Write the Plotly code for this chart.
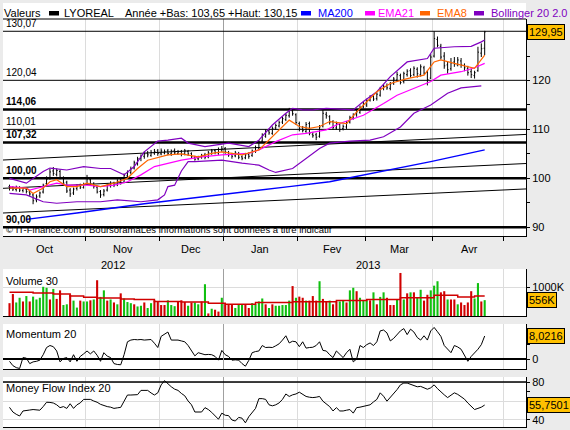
import plotly.graph_objects as go

# ---------------- data ----------------
days = list(range(142))  # trading days from 1 Oct 2012

open_ = [98.3, 98.1, 97.7, 98.1, 97.5, 97.8, 97.2, 96.6, 95.6, 96.4,
         97.2, 98.9, 100.0, 101.5, 100.8, 101.4, 100.0, 99.2, 97.6, 97.0,
         97.9, 98.5, 98.1, 98.9, 99.7, 98.8, 98.2, 97.3, 96.7, 97.6,
         98.5, 99.0, 98.7, 99.3, 99.2, 100.5, 101.2, 102.1, 103.0, 104.1,
         104.5, 105.1, 104.7, 105.2, 105.6, 105.0, 105.2, 105.6, 105.0, 105.7,
         105.1, 105.5, 105.0, 105.5, 105.1, 104.3, 104.0, 104.3, 104.8, 104.4,
         105.1, 105.7, 105.2, 105.8, 106.1, 105.3, 104.9, 104.6, 105.0, 104.4,
         104.2, 104.9, 104.7, 105.5, 106.2, 107.6, 108.6, 109.7, 109.2, 110.3,
         110.7, 111.5, 112.0, 112.8, 113.8, 113.0, 111.2, 110.3, 109.6, 111.2,
         109.0, 108.9, 108.6, 110.7, 113.1, 112.6, 111.6, 110.3, 111.0, 110.2,
         110.5, 111.5, 112.3, 113.0, 113.5, 114.6, 115.0, 116.0, 116.8, 116.3,
         117.0, 118.4, 118.9, 118.4, 119.5, 120.1, 121.0, 119.8, 121.2, 122.0,
         121.2, 122.3, 121.2, 122.6, 121.7, 120.5, 125.0, 128.4, 127.0, 125.0,
         123.2, 122.4, 123.8, 123.2, 124.0, 123.1, 122.5, 121.8, 121.0, 122.0,
         125.6, 126.6]
high = [98.7, 98.4, 98.5, 98.4, 98.2, 98.1, 97.6, 96.9, 96.7, 97.3,
        98.9, 100.4, 101.9, 102.3, 102.0, 101.8, 100.4, 99.5, 98.0, 98.1,
        98.8, 98.9, 99.1, 100.7, 100.0, 99.2, 98.5, 97.6, 97.8, 98.9,
        99.4, 99.3, 99.8, 99.9, 101.0, 101.6, 102.4, 103.6, 104.4, 104.9,
        105.5, 105.6, 105.8, 106.0, 106.0, 106.1, 105.9, 106.0, 105.9, 106.1,
        105.8, 105.8, 106.0, 105.8, 105.3, 104.6, 104.6, 105.0, 105.2, 105.6,
        106.0, 106.0, 106.3, 106.6, 106.4, 105.6, 105.2, 105.6, 105.4, 104.7,
        105.2, 105.3, 105.9, 106.7, 107.8, 109.2, 110.0, 110.1, 110.6, 111.2,
        111.8, 112.6, 113.3, 114.4, 114.2, 113.3, 111.6, 110.7, 111.5, 111.6,
        109.5, 109.3, 110.9, 114.1, 113.6, 112.9, 111.9, 111.6, 111.3, 111.0,
        111.7, 112.8, 113.3, 114.0, 114.9, 115.6, 116.3, 117.0, 117.2, 117.6,
        118.7, 119.3, 119.4, 119.7, 120.7, 121.8, 121.4, 121.8, 122.3, 122.5,
        122.9, 122.7, 123.3, 123.0, 122.1, 125.4, 130.07, 129.0, 127.5, 125.8,
        123.8, 124.6, 124.8, 124.8, 124.6, 123.5, 123.0, 122.4, 122.0, 126.9,
        127.6, 130.15]
low = [97.5, 97.4, 97.3, 97.2, 97.1, 96.9, 96.4, 94.7, 95.1, 96.0,
       96.9, 98.6, 99.7, 100.5, 100.4, 99.8, 98.6, 97.0, 96.2, 96.6,
       97.5, 97.8, 97.9, 98.6, 98.5, 97.9, 96.9, 96.0, 96.3, 97.3,
       98.1, 98.2, 98.4, 98.7, 99.0, 100.1, 100.8, 101.8, 102.6, 103.5,
       104.0, 104.3, 104.4, 104.8, 104.6, 104.7, 104.9, 104.7, 104.6, 104.9,
       104.8, 104.5, 104.7, 104.6, 104.0, 103.6, 103.7, 104.0, 103.9, 104.1,
       104.8, 104.9, 104.8, 105.4, 105.0, 104.4, 104.0, 104.3, 103.9, 103.7,
       103.9, 104.0, 104.4, 105.2, 105.9, 107.2, 108.3, 108.9, 108.9, 109.9,
       110.4, 111.1, 111.7, 112.4, 112.8, 110.9, 109.6, 109.4, 109.3, 108.8,
       108.3, 107.8, 108.3, 110.4, 112.2, 111.0, 109.9, 109.9, 109.5, 109.8,
       110.1, 111.2, 112.0, 112.6, 113.2, 114.3, 114.6, 115.7, 115.8, 115.9,
       116.7, 118.0, 118.1, 118.0, 119.1, 119.8, 119.2, 119.4, 120.8, 120.6,
       120.9, 120.6, 120.8, 121.2, 119.0, 120.3, 124.7, 126.8, 124.3, 122.4,
       121.4, 122.0, 122.8, 122.9, 122.6, 121.9, 121.0, 120.5, 120.4, 121.8,
       124.8, 125.2]
close = [98.0, 97.8, 98.2, 97.6, 97.9, 97.3, 96.8, 95.4, 96.2, 97.0,
         98.6, 99.8, 101.3, 101.0, 101.6, 100.2, 99.0, 97.4, 96.8, 97.8,
         98.4, 98.2, 98.7, 99.9, 98.9, 98.3, 97.2, 96.6, 97.4, 98.6,
         98.9, 98.6, 99.4, 99.1, 100.6, 101.3, 102.0, 103.2, 104.0, 104.6,
         105.0, 104.8, 105.3, 105.5, 105.1, 105.6, 105.5, 105.1, 105.6, 105.2,
         105.4, 104.9, 105.6, 105.0, 104.4, 103.9, 104.2, 104.7, 104.3, 105.2,
         105.6, 105.3, 105.9, 106.0, 105.4, 104.8, 104.5, 105.2, 104.3, 104.1,
         104.8, 104.5, 105.6, 106.3, 107.4, 108.8, 109.6, 109.3, 110.2, 110.8,
         111.4, 112.2, 112.9, 113.9, 113.2, 111.4, 110.1, 109.8, 111.0, 109.2,
         108.7, 108.4, 110.5, 113.3, 112.8, 111.5, 110.4, 111.2, 110.0, 110.6,
         111.3, 112.4, 112.9, 113.6, 114.4, 115.2, 115.9, 116.6, 116.2, 117.2,
         118.3, 118.8, 118.5, 119.3, 120.3, 121.2, 119.6, 121.4, 121.9, 121.0,
         122.5, 121.4, 122.8, 121.5, 120.2, 124.8, 128.6, 127.2, 124.8, 123.0,
         122.2, 123.6, 123.4, 124.2, 123.2, 122.6, 121.6, 121.2, 121.6, 125.8,
         126.5, 129.95]

ema8_day = [0, 5, 7, 10, 12, 14, 17, 20, 23, 27, 31, 35, 38, 41, 47, 51, 56, 60, 63, 69,
            74, 76, 80, 83, 86, 89, 92, 95, 100, 103, 109, 113, 118, 123, 126, 128, 132, 136, 138, 141]
ema8 = [98.0, 98.0, 96.9, 98.0, 99.3, 99.7, 98.3, 98.3, 99.0, 98.3, 99.0, 100.0, 102.0, 103.7, 104.8,
        105.0, 104.4, 105.1, 105.4, 104.8, 105.8, 107.2, 109.9, 111.9, 110.6, 110.2, 110.6, 111.6,
        111.2, 113.6, 117.7, 119.4, 120.4, 121.1, 123.8, 124.2, 123.5, 122.8, 122.5, 125.2]
ema21_day = [0, 5, 6, 10, 14, 17, 23, 27, 31, 35, 39, 43, 47, 51, 57, 63, 71, 74, 79, 84,
             88, 94, 98, 105, 111, 115, 119, 125, 128, 134, 138, 141]
ema21 = [98.3, 98.0, 97.6, 98.3, 99.0, 98.6, 98.6, 98.3, 98.6, 99.3, 100.7, 102.4, 103.1, 103.7,
         104.4, 104.8, 105.1, 105.8, 107.5, 108.9, 109.2, 109.9, 111.2, 112.9, 115.3, 117.0, 118.1,
         119.8, 121.1, 121.8, 122.6, 123.5]
boll_up_day = [0, 5, 10, 12, 17, 22, 27, 30, 34, 37, 40, 44, 47, 51, 53, 58, 65, 71, 74, 78,
               82, 84, 87, 90, 94, 102, 105, 109, 113, 118, 124, 126, 132, 137, 140, 141]
boll_up = [100.0, 99.0, 101.4, 102.1, 101.7, 102.4, 102.0, 102.0, 100.7, 102.4, 105.4, 107.6, 107.8,
           108.2, 107.2, 106.5, 107.2, 106.5, 107.8, 110.9, 113.3, 114.3, 114.0, 114.0, 114.3, 114.0,
           115.7, 117.7, 120.8, 123.8, 124.5, 126.6, 126.9, 127.0, 127.9, 128.3]
boll_lo_day = [0, 5, 10, 14, 20, 27, 32, 39, 44, 46, 47, 49, 51, 53, 55, 63, 69, 74, 77, 79,
               84, 88, 92, 95, 101, 107, 111, 116, 120, 125, 130, 134, 140]
boll_lo = [96.9, 96.6, 95.2, 94.9, 95.2, 95.2, 95.6, 95.2, 95.6, 96.6, 98.3, 98.6, 101.5, 103.4,
           103.4, 103.7, 103.1, 102.7, 101.7, 101.2, 102.0, 104.1, 106.1, 107.2, 107.6, 107.8, 108.5,
           110.5, 113.3, 115.0, 117.4, 118.5, 118.9]
ma200_day = [5, 20, 40, 54, 63, 83, 95, 110, 125, 141]
ma200 = [91.6, 92.9, 94.8, 95.9, 96.6, 98.3, 99.3, 101.35, 103.4, 105.8]

levels = [130.07, 120.04, 114.06, 110.01, 107.32, 100.00, 90.00]
level_labels = ["130,07", "120,04", "114,06", "110,01", "107,32", "100,00", "90,00"]
level_bold = [False, False, True, False, True, True, True]
trend_days = [-2, 154]
trend_lines = [[103.74, 109.0], [97.95, 103.05], [92.9, 97.85]]

volume_k = [450, 770, 475, 640, 510, 700, 510, 680, 580, 640,
            1025, 990, 580, 950, 600, 900, 385, 410, 745, 540,
            295, 540, 510, 510, 550, 580, 1255, 670, 900, 540,
            580, 475, 410, 795, 615, 490, 450, 410, 335, 360,
            475, 280, 450, 550, 490, 385, 385, 550, 385, 345,
            510, 550, 490, 360, 475, 475, 410, 510, 1115, 90,
            255, 220, 155, 640, 410, 410, 410, 280, 410, 410,
            410, 280, 450, 410, 510, 615, 410, 280, 410, 360,
            360, 385, 385, 540, 1050, 640, 680, 640, 540, 540,
            700, 540, 1220, 600, 510, 540, 410, 510, 510, 540,
            475, 900, 990, 870, 640, 550, 550, 550, 830, 410,
            670, 830, 640, 385, 385, 580, 1510, 580, 795, 830,
            830, 640, 920, 540, 745, 900, 1065, 1220, 830, 870,
            580, 580, 580, 410, 475, 385, 475, 870, 615, 1155,
            510, 556]
vol_up = [0, 0, 1, 1, 0, 1, 0, 1, 1, 1,
          1, 1, 0, 1, 0, 0, 1, 1, 0, 1,
          1, 0, 1, 1, 0, 1, 0, 1, 1, 0,
          1, 0, 1, 0, 1, 1, 1, 0, 1, 1,
          0, 1, 1, 0, 0, 0, 0, 1, 1, 1,
          0, 0, 0, 1, 0, 1, 1, 0, 1, 0,
          1, 0, 0, 1, 0, 0, 0, 1, 1, 1,
          0, 0, 1, 1, 1, 1, 0, 1, 0, 1,
          1, 1, 1, 1, 0, 1, 0, 0, 1, 0,
          0, 0, 1, 0, 0, 1, 0, 0, 1, 1,
          0, 1, 1, 0, 1, 1, 1, 0, 1, 0,
          1, 1, 0, 0, 0, 1, 0, 1, 0, 1,
          0, 1, 1, 0, 0, 1, 1, 1, 0, 0,
          1, 0, 0, 1, 0, 0, 0, 0, 1, 1,
          0, 1]
vol_ma_day = [0, 7, 13, 18, 22, 26, 33, 37, 43, 51, 59, 64, 73, 84, 97, 106, 116, 126, 133, 138, 141]
vol_ma_k = [833, 808, 770, 705, 655, 628, 600, 577, 513, 487, 449, 410, 475, 500, 540, 577, 640,
            730, 667, 705, 705]

momentum = [-0.8, -2.3, -3.0, -3.3, 0.5, 0.3, -1.6, -1.0, -0.8, -0.4,
            1.5, 4.0, 4.7, 4.3, 2.8, -1.0, 0.2, 0.5, -1.0, 1.5,
            -0.8, 0.9, 1.8, 2.8, 1.8, 2.8, 1.3, -0.8, 2.2, 1.0,
            0.5, -1.6, -1.9, -2.0, 1.5, 6.0, 6.6, 6.8, 6.7, 6.8,
            6.6, 6.8, 6.8, 5.5, 4.0, 7.9, 8.8, 9.4, 6.6, 6.7,
            6.6, 6.3, 6.0, 4.7, 2.8, 1.1, 2.2, 1.8, 1.5, 1.6,
            1.5, 0.9, -0.4, 3.0, 1.5, 0.9, -0.4, -0.3, -0.4, -1.6,
            -2.5, -0.5, 2.2, 2.6, 2.8, 4.7, 4.0, 4.1, 4.0, 4.6,
            5.3, 6.6, 8.1, 5.6, 6.2, 6.0, 4.3, 6.0, 3.8, 4.0,
            4.1, 4.7, 6.0, 3.0, 2.8, 1.5, 0.5, 2.8, 1.5, 0.5,
            2.2, 3.4, -1.0, 0.0, 4.7, 4.0, 5.0, 5.6, 4.7, 6.0,
            9.8, 10.1, 9.1, 6.3, 7.2, 8.5, 9.8, 10.6, 8.5, 10.4,
            9.4, 7.5, 6.6, 8.1, 6.6, 9.8, 11.0, 9.5, 7.9, 4.7,
            3.5, 2.2, 4.7, 4.2, 3.4, 1.5, -0.8, 0.9, 2.0, 3.4,
            5.0, 8.0216]
mfi = [53.3, 48.4, 46.0, 44.2, 49.5, 50.3, 50.5, 51.0, 50.8, 50.3,
       54.1, 58.7, 58.5, 57.9, 56.0, 53.0, 54.1, 52.2, 57.1, 52.2,
       56.0, 58.0, 61.7, 61.7, 61.7, 60.0, 58.7, 56.5, 54.9, 54.1,
       53.5, 52.2, 52.8, 53.3, 59.8, 66.3, 66.3, 66.5, 66.7, 71.2,
       71.2, 71.2, 68.5, 66.3, 68.6, 77.0, 81.5, 78.0, 75.0, 72.5,
       71.2, 68.0, 65.5, 60.0, 56.0, 48.4, 48.4, 48.4, 53.0, 51.0,
       48.0, 44.6, 40.8, 47.2, 45.0, 44.6, 40.0, 38.9, 42.7, 41.9,
       37.0, 43.4, 48.0, 52.2, 62.5, 62.5, 61.7, 56.0, 54.9, 56.0,
       58.0, 61.7, 67.4, 64.8, 66.5, 67.4, 69.3, 67.0, 64.8, 64.0,
       63.6, 64.0, 64.8, 59.8, 56.5, 54.1, 49.5, 53.0, 49.5, 49.5,
       50.3, 51.0, 47.2, 53.0, 53.5, 54.1, 55.0, 56.0, 59.0, 61.7,
       68.6, 65.0, 59.8, 63.5, 67.4, 72.0, 77.0, 78.9, 78.9, 77.7,
       76.5, 75.0, 75.4, 74.0, 72.4, 73.9, 77.0, 73.0, 69.3, 66.5,
       63.6, 66.0, 68.6, 67.0, 64.8, 62.0, 57.9, 54.5, 51.0, 52.2,
       53.5, 55.7501]

month_bounds = [22.5, 44.5, 63.5, 85.5, 105.5, 125.5, 146.5]
year_bound = 63.5
month_names = ["Oct", "Nov", "Dec", "Jan", "Fev", "Mar", "Avr"]
month_label_days = [10.5, 33.7, 53.9, 74.3, 95.7, 115.6, 136.4]
year_names = ["2012", "2013"]
year_label_days = [30.7, 106.4]

last_close_label = "129,95"
last_volume_label = "556K"
last_momentum_label = "8,0216"
last_mfi_label = "55,7501"

# ---------------- layout helpers ----------------
W, H = 570, 430
FONT = "Liberation Sans, Arial, sans-serif"


def px(x):
    return x / W


def py(y):
    return 1 - y / H


XR = [-1.93, 153.26]
XDOM = [px(3), px(526)]
YR_MAIN = [88.2, 132.58]
YR_VOL = [0, 1649]
YR_MOM = [-3.48, 12.2]
YR_MFI = [32.6, 85.3]

BLUE = "#0000ff"
MAGENTA = "#ff00ff"
ORANGE = "#ff6600"
PURPLE = "#8000c0"
YELLOW = "#ffc000"
GRID = "#dcdcdc"

fig = go.Figure()

# year boundary (darker grid line) in every panel
for xa, ya, yr in [("x", "y", YR_MAIN), ("x2", "y2", YR_VOL), ("x3", "y3", YR_MOM), ("x4", "y4", YR_MFI)]:
    fig.add_trace(go.Scatter(x=[year_bound, year_bound], y=yr, mode="lines",
                             line=dict(color="#a0a0a0", width=1), xaxis=xa, yaxis=ya,
                             hoverinfo="skip", showlegend=False))

# trend channel lines
for tl in trend_lines:
    fig.add_trace(go.Scatter(x=trend_days, y=tl, mode="lines", line=dict(color="black", width=1),
                             hoverinfo="skip", showlegend=False))

# horizontal level lines
for lv, b in zip(levels, level_bold):
    fig.add_trace(go.Scatter(x=[-3, 155], y=[lv, lv], mode="lines",
                             line=dict(color="black", width=2.6 if b else 1),
                             hoverinfo="skip", showlegend=False))

# indicators
fig.add_trace(go.Scatter(x=ma200_day, y=ma200, mode="lines", line=dict(color=BLUE, width=1.4),
                         hoverinfo="skip", showlegend=False))
fig.add_trace(go.Scatter(x=boll_up_day, y=boll_up, mode="lines", line=dict(color=PURPLE, width=1.2),
                         hoverinfo="skip", showlegend=False))
fig.add_trace(go.Scatter(x=boll_lo_day, y=boll_lo, mode="lines", line=dict(color=PURPLE, width=1.2),
                         hoverinfo="skip", showlegend=False))
fig.add_trace(go.Scatter(x=ema21_day, y=ema21, mode="lines", line=dict(color=MAGENTA, width=1.2),
                         hoverinfo="skip", showlegend=False))
fig.add_trace(go.Scatter(x=ema8_day, y=ema8, mode="lines", line=dict(color=ORANGE, width=1.2),
                         hoverinfo="skip", showlegend=False))

# price bars
fig.add_trace(go.Ohlc(x=days, open=open_, high=high, low=low, close=close,
                      increasing=dict(line=dict(color="black", width=1)),
                      decreasing=dict(line=dict(color="black", width=1)),
                      tickwidth=0.3, hoverinfo="skip", showlegend=False))

# volume
fig.add_trace(go.Bar(x=days, y=volume_k, width=0.62,
                     marker=dict(color=["#10c010" if u else "#d00000" for u in vol_up], line=dict(width=0)),
                     xaxis="x2", yaxis="y2", hoverinfo="skip", showlegend=False))
fig.add_trace(go.Scatter(x=vol_ma_day, y=vol_ma_k, mode="lines", line=dict(color="#d00000", width=1.5, shape="hv"),
                         xaxis="x2", yaxis="y2", hoverinfo="skip", showlegend=False))

# momentum
fig.add_trace(go.Scatter(x=days, y=momentum, mode="lines", line=dict(color="black", width=1),
                         xaxis="x3", yaxis="y3", hoverinfo="skip", showlegend=False))

# money flow index
fig.add_trace(go.Scatter(x=[-3, 155], y=[80, 80], mode="lines", line=dict(color="black", width=1.5),
                         xaxis="x4", yaxis="y4", hoverinfo="skip", showlegend=False))
fig.add_trace(go.Scatter(x=days, y=mfi, mode="lines", line=dict(color="black", width=1),
                         xaxis="x4", yaxis="y4", hoverinfo="skip", showlegend=False))

tickfont = dict(family=FONT, size=11, color="black")
grid_bounds = [b for b in month_bounds if b != year_bound]


def xaxis_cfg(anchor, ticks):
    d = dict(domain=XDOM, range=XR, anchor=anchor, showgrid=True, gridcolor=GRID, gridwidth=1,
             tickmode="array", tickvals=grid_bounds, showticklabels=False, zeroline=False,
             showline=True, linecolor="black", linewidth=1, fixedrange=True,
             ticks=ticks, ticklen=4, tickcolor="black")
    if ticks:
        d["minor"] = dict(tickmode="array", tickvals=[year_bound], ticks="outside", ticklen=4,
                          tickcolor="black", showgrid=False)
    return d


def yaxis_cfg(domain, rng, anchor, tickvals, ticktext, minor_vals, showgrid=False):
    return dict(domain=domain, range=rng, anchor=anchor, side="right", showline=True,
                linecolor="black", linewidth=1, ticks="outside", ticklen=3, tickcolor="black",
                tickmode="array", tickvals=tickvals, ticktext=ticktext, tickfont=tickfont,
                showgrid=showgrid, gridcolor=GRID, zeroline=False, fixedrange=True,
                minor=dict(tickmode="array", tickvals=minor_vals, ticks="outside", ticklen=3,
                           tickcolor="black", showgrid=False))


layout = dict(
    width=W, height=H, autosize=False, margin=dict(l=0, r=0, t=0, b=0),
    paper_bgcolor="#ebebeb", plot_bgcolor="white", showlegend=False,
    xaxis=dict(xaxis_cfg("y", "outside"), rangeslider=dict(visible=False)),
    xaxis2=xaxis_cfg("y2", ""),
    xaxis3=xaxis_cfg("y3", ""),
    xaxis4=xaxis_cfg("y4", ""),
    yaxis=yaxis_cfg([py(236), py(19)], YR_MAIN, "x", [90, 100, 110, 120],
                    ["90", "100", "110", "120"], [95, 105, 115, 125]),
    yaxis2=yaxis_cfg([py(316), py(269)], YR_VOL, "x2", [1000], ["1000K"], [500], showgrid=True),
    yaxis3=yaxis_cfg([py(369), py(324)], YR_MOM, "x3", [0], ["0"], [5, 10]),
    yaxis4=yaxis_cfg([py(427), py(377)], YR_MFI, "x4", [40, 60, 80], ["40", "", "80"], [50, 70],
                     showgrid=True),
)
layout["yaxis3"]["zeroline"] = True
layout["yaxis3"]["zerolinecolor"] = "black"
layout["yaxis3"]["zerolinewidth"] = 1.5
fig.update_layout(**layout)

shapes = [
    dict(type="rect", xref="paper", yref="paper", x0=px(3), x1=px(526), y0=py(19), y1=py(3),
         fillcolor="white", line=dict(width=0), layer="below"),
    dict(type="line", xref="paper", yref="paper", x0=px(3), x1=px(526), y0=py(19), y1=py(19),
         line=dict(color="black", width=1)),
]
# legend swatches in header
for x0, col in [(49, "black"), (301, BLUE), (365, MAGENTA), (420, ORANGE), (474, PURPLE)]:
    shapes.append(dict(type="rect", xref="paper", yref="paper", x0=px(x0), x1=px(x0 + 10),
                       y0=py(15.5), y1=py(11), fillcolor=col, line=dict(width=0)))
fig.update_layout(shapes=shapes)

ann = []


def text(x, y, s, color="black", size=11, xanchor="left", xref="paper", yref="paper", **kw):
    ann.append(dict(x=x, y=y, xref=xref, yref=yref, text=s, showarrow=False, xanchor=xanchor,
                    yanchor="middle", font=dict(family=FONT, size=size, color=color), **kw))


# header
text(px(2), py(13), "Valeurs")
text(px(62), py(13), "LYOREAL")
text(px(123), py(13), "Année +Bas: 103,65 +Haut: 130,15")
text(px(316), py(13), "MA200", color=BLUE)
text(px(376), py(13), "EMA21", color=MAGENTA)
text(px(435), py(13), "EMA8", color=ORANGE)
text(px(489), py(13), "Bollinger 20 2.0", color=PURPLE)

# level labels
for lv, lab, b in zip(levels, level_labels, level_bold):
    text(px(4), lv, "<b>%s</b>" % lab if b else lab, size=10, yref="y", yshift=8)

text(px(4), py(229), "© IT-Finance.com / BoursoramaLes informations sont données à titre indicatif", size=9.5)

# month / year labels
for d, m in zip(month_label_days, month_names):
    text(d, py(249), m, xanchor="center", xref="x")
for d, yn in zip(year_label_days, year_names):
    text(d, py(265), yn, xanchor="center", xref="x")

# panel titles
text(px(4), py(281), "Volume 30")
text(px(4), py(334), "Momentum 20")
text(px(4), py(388), "Money Flow Index 20")

# last-value boxes
for yref, val, lab in [("y", close[-1], last_close_label), ("y2", volume_k[-1], last_volume_label),
                       ("y3", momentum[-1], last_momentum_label), ("y4", mfi[-1], last_mfi_label)]:
    text(px(527), val, lab, yref=yref, bgcolor=YELLOW, bordercolor="black", borderwidth=1, borderpad=1)

fig.update_layout(annotations=ann)
fig.write_html("out.html")
